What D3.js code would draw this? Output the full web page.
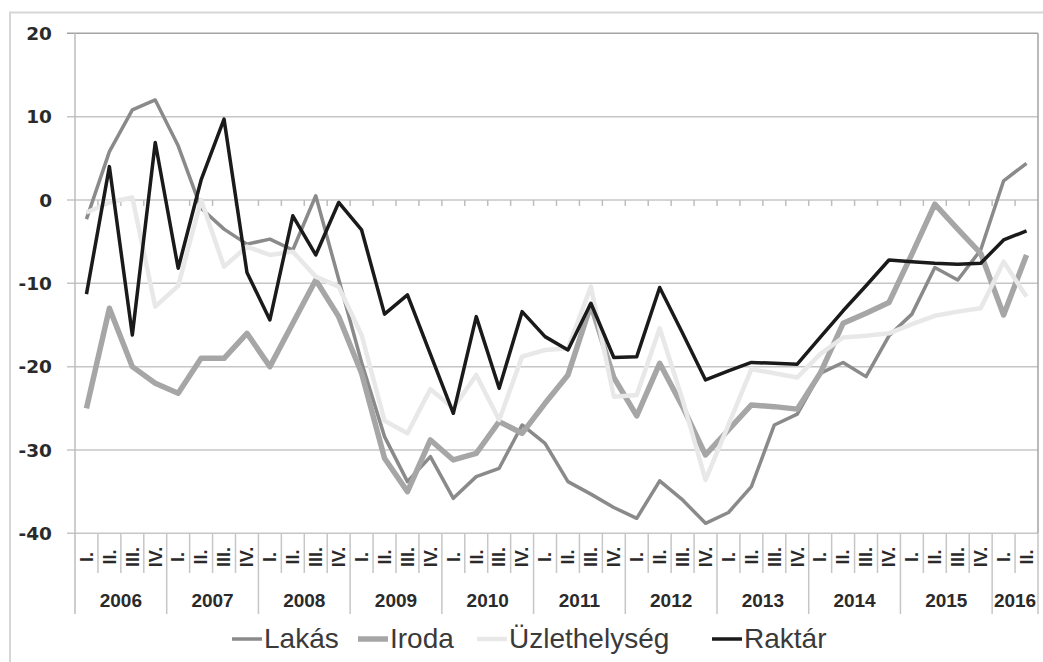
<!DOCTYPE html>
<html>
<head>
<meta charset="utf-8">
<script src="https://cdn.jsdelivr.net/npm/d3@7/dist/d3.min.js"></script>
<style>
  body { margin: 0; background: #fff; }
</style>
</head>
<body>
<div id="chart"></div>
<script>
// chart data
const years = [2006, 2007, 2008, 2009, 2010, 2011, 2012, 2013, 2014, 2015, 2016];
const quartersPerYear = [4, 4, 4, 4, 4, 4, 4, 4, 4, 4, 2];
const quarterNames = ["I.", "II.", "III.", "IV."];
const yTicks = [20, 10, 0, -10, -20, -30, -40];

const lakas = [
  -2.3, 5.8, 10.8, 12.0, 6.5, -1.0, -3.5, -5.3, -4.7, -6.0, 0.5, -9.5,
  -19.5, -28.4, -33.8, -30.8, -35.8, -33.2, -32.2, -27.0, -29.2, -33.8, -35.3, -36.9,
  -38.2, -33.7, -36.0, -38.8, -37.5, -34.4, -27.0, -25.7, -20.8, -19.5, -21.2, -16.3,
  -13.7, -8.1, -9.6, -6.0, 2.3, 4.4
];
const iroda = [
  -25.0, -13.0, -20.0, -22.0, -23.2, -19.0, -19.0, -16.0, -20.0, -14.8, -9.6, -14.0,
  -20.8, -31.0, -35.0, -28.8, -31.2, -30.4, -26.6, -28.0, -24.4, -21.0, -12.6, -21.3,
  -25.9, -19.6, -24.8, -30.6, -27.6, -24.6, -24.8, -25.1, -20.8, -14.8, -13.6, -12.3,
  -6.5, -0.5, -3.5, -6.4, -13.8, -6.6
];
const uzlet = [
  -1.5, -0.3, 0.3, -12.8, -10.3, 0.0, -8.0, -5.6, -6.6, -6.2, -9.2, -10.4,
  -16.2, -26.5, -28.0, -22.7, -25.0, -21.0, -26.4, -18.8, -18.0, -17.8, -10.4, -23.6,
  -23.4, -15.4, -24.0, -33.6, -27.0, -20.3, -20.8, -21.3, -18.5, -16.5, -16.3, -16.0,
  -14.9, -13.9, -13.4, -13.0, -7.4, -11.6
];
const raktar = [
  -11.3, 4.0, -16.2, 6.9, -8.2, 2.4, 9.7, -8.7, -14.4, -1.9, -6.6, -0.3,
  -3.6, -13.7, -11.4, -18.5, -25.6, -14.0, -22.6, -13.4, -16.4, -18.0, -12.4, -18.9,
  -18.8, -10.5, -16.0, -21.6, -20.5, -19.5, -19.6, -19.7, -16.5, -13.3, -10.3, -7.2,
  -7.4, -7.6, -7.7, -7.6, -4.8, -3.7
];
const seriesNames = ["Lakás", "Iroda", "Üzlethelység", "Raktár"];

const createChart = () => {
  const width = 1043;
  const height = 662;
  const left = 75, right = 1038, top = 33.3, bottom = 533.3;

  // one entry per quarter
  const cats = [];
  years.forEach((yr, i) => {
    for (let q = 0; q < quartersPerYear[i]; q++) cats.push({ year: yr, q: q });
  });

  const series = [
    { name: seriesNames[0], values: lakas, color: '#8a8a8a', w: 3.5, lx: 232 },
    { name: seriesNames[1], values: iroda, color: '#a6a6a6', w: 5.5, lx: 358 },
    { name: seriesNames[2], values: uzlet, color: '#e8e8e8', w: 4.5, lx: 477 },
    { name: seriesNames[3], values: raktar, color: '#1a1a1a', w: 3.5, lx: 712 }
  ];

  const x = d3.scaleBand().domain(d3.range(cats.length)).range([left, right]);
  const y = d3.scaleLinear().domain([-40, 20]).range([bottom, top]);
  const bw = x.bandwidth();
  const cx = i => x(i) + bw / 2;

  const svg = d3.select('#chart').append('svg')
    .attr('width', width)
    .attr('height', height)
    .style('font-family', '"Liberation Sans", Arial, sans-serif');

  svg.append('rect').attr('width', width).attr('height', height).attr('fill', '#fff');

  // outer frame
  svg.append('rect')
    .attr('x', 10).attr('y', 12.5)
    .attr('width', 1040).attr('height', 660)
    .attr('fill', 'none')
    .attr('stroke', '#d6d6d6')
    .attr('stroke-width', 2);

  // gridlines + y tick marks
  svg.append('g').selectAll('line')
    .data(yTicks)
    .enter().append('line')
    .attr('x1', left - 8).attr('x2', right)
    .attr('y1', d => y(d)).attr('y2', d => y(d))
    .attr('stroke', d => d === 20 ? '#a3a3a3' : '#c6c6c6')
    .attr('stroke-width', 1.5);

  // y labels
  svg.append('g').selectAll('text')
    .data(yTicks)
    .enter().append('text')
    .attr('x', 52)
    .attr('y', d => y(d))
    .attr('dy', '0.36em')
    .attr('text-anchor', 'end')
    .style('font-family', '"DejaVu Sans", sans-serif')
    .style('font-weight', 'bold')
    .style('font-size', '18.5px')
    .attr('fill', '#2a2a2a')
    .text(d => d);

  // left axis and right border
  svg.append('line')
    .attr('x1', left).attr('x2', left)
    .attr('y1', top).attr('y2', 614)
    .attr('stroke', '#bdbdbd').attr('stroke-width', 1.5);
  svg.append('line')
    .attr('x1', right).attr('x2', right)
    .attr('y1', top).attr('y2', bottom)
    .attr('stroke', '#a3a3a3').attr('stroke-width', 1.5);

  // small tick marks on the zero line
  svg.append('g').selectAll('line')
    .data(d3.range(1, cats.length))
    .enter().append('line')
    .attr('x1', k => left + k * bw).attr('x2', k => left + k * bw)
    .attr('y1', y(0)).attr('y2', y(0) + 6)
    .attr('stroke', '#bdbdbd').attr('stroke-width', 1.5);

  // category separators below the plot
  const yearStarts = d3.cumsum(quartersPerYear);
  svg.append('g').selectAll('line')
    .data(d3.range(1, cats.length + 1))
    .enter().append('line')
    .attr('x1', k => left + k * bw).attr('x2', k => left + k * bw)
    .attr('y1', bottom)
    .attr('y2', k => yearStarts.includes(k) ? 614 : 573)
    .attr('stroke', '#c6c6c6').attr('stroke-width', 1.5);

  // quarter labels
  svg.append('g').selectAll('text')
    .data(cats)
    .enter().append('text')
    .attr('transform', (d, i) => `translate(${cx(i)}, 557) rotate(-90)`)
    .attr('text-anchor', 'middle')
    .attr('dy', '0.35em')
    .style('font-weight', 'bold')
    .style('font-size', '18px')
    .attr('fill', '#2a2a2a')
    .text(d => quarterNames[d.q]);

  // year labels
  let start = 0;
  const yearPos = years.map((yr, i) => {
    const s = start;
    start += quartersPerYear[i];
    return { year: yr, mid: left + (s + quartersPerYear[i] / 2) * bw };
  });
  svg.append('g').selectAll('text')
    .data(yearPos)
    .enter().append('text')
    .attr('x', d => d.mid)
    .attr('y', 607)
    .attr('text-anchor', 'middle')
    .style('font-weight', 'bold')
    .style('font-size', '19px')
    .attr('fill', '#2a2a2a')
    .text(d => d.year);

  // series lines
  const line = d3.line()
    .x((d, i) => cx(i))
    .y(d => y(d));

  svg.append('g').selectAll('path')
    .data(series)
    .enter().append('path')
    .attr('d', d => line(d.values))
    .attr('fill', 'none')
    .attr('stroke', d => d.color)
    .attr('stroke-width', d => d.w)
    .attr('stroke-linejoin', 'round');

  // legend
  const legend = svg.append('g').selectAll('g')
    .data(series)
    .enter().append('g')
    .attr('transform', d => `translate(${d.lx}, 0)`);
  legend.append('line')
    .attr('x1', 0).attr('x2', 30)
    .attr('y1', 639).attr('y2', 639)
    .attr('stroke', d => d.color)
    .attr('stroke-width', d => d.w);
  legend.append('text')
    .attr('x', 32)
    .attr('y', 648)
    .style('font-size', '28px')
    .attr('fill', '#3a3a3a')
    .text(d => d.name);
};

createChart();
</script>
</body>
</html>
